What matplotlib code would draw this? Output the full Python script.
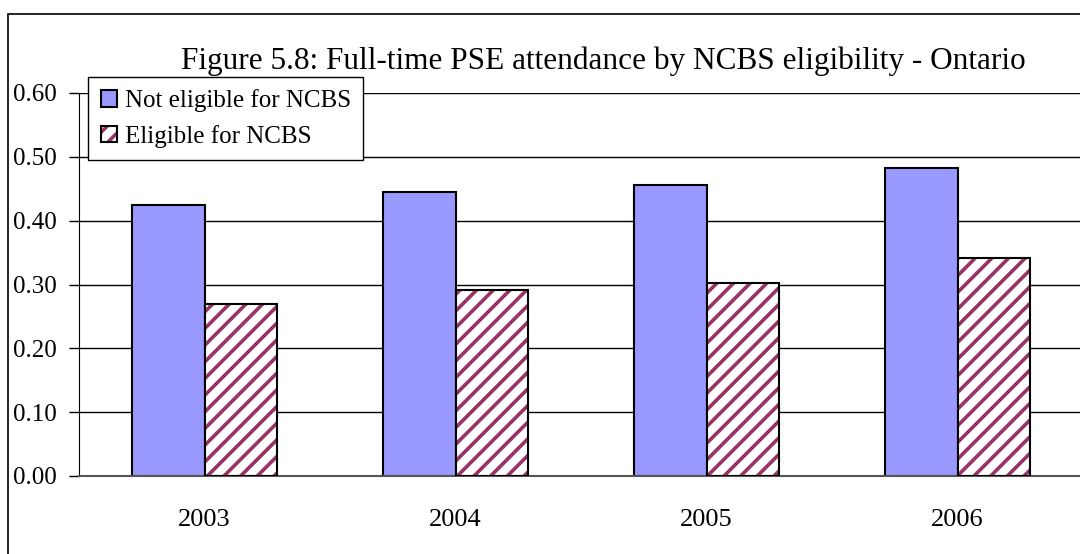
import matplotlib.pyplot as plt
import numpy as np
from matplotlib.patches import Rectangle

# values
years = ['2003', '2004', '2005', '2006']
not_eligible = [0.424, 0.445, 0.456, 0.482]
eligible = [0.270, 0.292, 0.303, 0.342]
y_ticks = [0.0, 0.1, 0.2, 0.3, 0.4, 0.5, 0.6]

plt.rcParams['font.family'] = ['Liberation Serif', 'DejaVu Serif']
plt.rcParams['hatch.linewidth'] = 2.6

fig = plt.figure(figsize=(10.8, 5.54), dpi=100)
ax = fig.add_axes([79/1080, 78/554, 1004/1080, 383/554])

x = np.arange(len(years))
w = 0.29

# grid lines behind the bars
ax.set_axisbelow(True)
ax.yaxis.grid(True, color='black', linewidth=1)

b1 = ax.bar(x - w/2, not_eligible, w, color='#9999FF', edgecolor='black', linewidth=1.5, zorder=2)
b2 = ax.bar(x + w/2, eligible, w, color='white', edgecolor='#993366', hatch='//', linewidth=0, zorder=2)
b3 = ax.bar(x + w/2, eligible, w, fill=False, edgecolor='black', linewidth=1.5, zorder=3)

ax.set_xlim(-0.5, len(years) - 0.5)
ax.set_ylim(0, 0.6)
ax.set_yticks(y_ticks)
ax.set_yticklabels(['%.2f' % v for v in y_ticks], fontsize=18)
ax.set_xticks(x)
ax.set_xticklabels(years, fontsize=19)
ax.tick_params(axis='x', length=0, pad=24)
ax.tick_params(axis='y', length=7, width=1, pad=9, direction='out')

for s in ['top', 'right']:
    ax.spines[s].set_visible(False)
ax.spines['left'].set_color('black')
ax.spines['bottom'].set_color('#555555')
ax.spines['bottom'].set_linewidth(1.5)

leg = ax.legend([b1[0], (b2[0], b3[0])], ['Not eligible for NCBS', 'Eligible for NCBS'],
                loc='upper left', bbox_to_anchor=(0.009, 1.042), borderaxespad=0,
                fontsize=18, fancybox=False, framealpha=1, edgecolor='black',
                handlelength=0.65, handleheight=0.65, handletextpad=0.32,
                labelspacing=0.5, borderpad=0.5)
leg.get_frame().set_linewidth(1)
leg.set_zorder(5)

fig.text(0.559, 0.889, 'Figure 5.8: Full-time PSE attendance by NCBS eligibility - Ontario',
         ha='center', va='center', fontsize=22.5)

# outer chart border (cut off at right and bottom)
fig.patches.append(Rectangle((8/1080, -0.1), 1.2, 1.1 - 14/554, transform=fig.transFigure,
                             fill=False, edgecolor='black', linewidth=1.2))

fig.savefig('out.png', dpi=100)
